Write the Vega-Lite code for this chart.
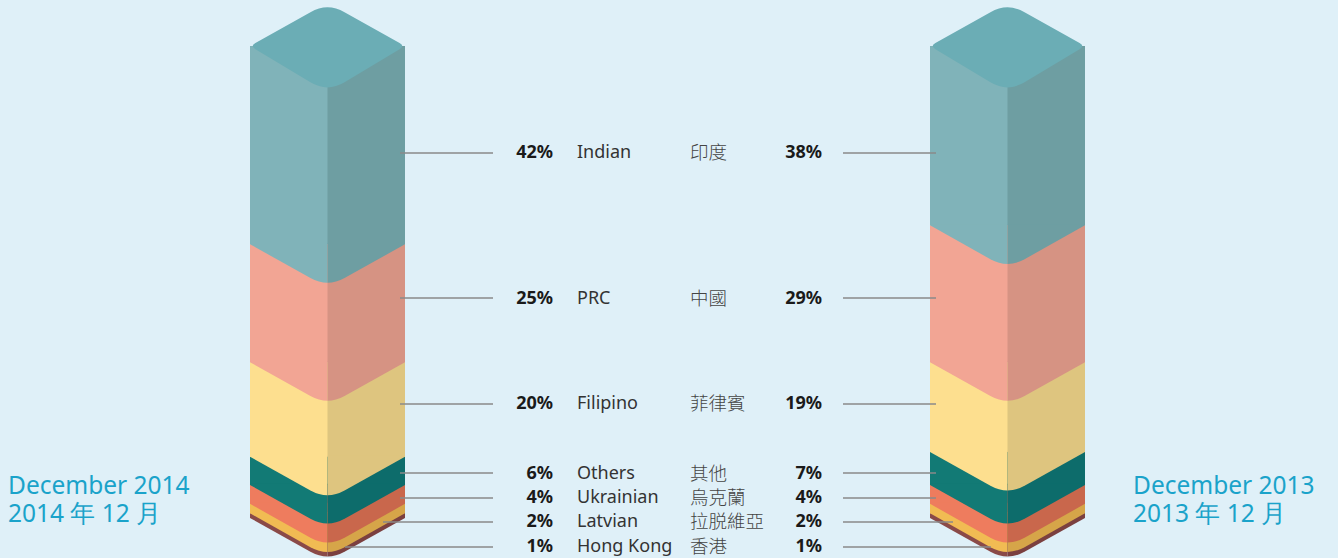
{
  "$schema": "https://vega.github.io/schema/vega-lite/v6.json",
  "width": 1338,
  "height": 558,
  "autosize": "none",
  "padding": 0,
  "background": "#dff0f8",
  "config": {"view": {"stroke": null}},
  "data": {
    "values": [
      {"year": "2014", "group": "Indian", "zh": "印度", "share": 0.42, "rank": 1},
      {"year": "2014", "group": "PRC", "zh": "中國", "share": 0.25, "rank": 2},
      {"year": "2014", "group": "Filipino", "zh": "菲律賓", "share": 0.20, "rank": 3},
      {"year": "2014", "group": "Others", "zh": "其他", "share": 0.06, "rank": 4},
      {"year": "2014", "group": "Ukrainian", "zh": "烏克蘭", "share": 0.04, "rank": 5},
      {"year": "2014", "group": "Latvian", "zh": "拉脱維亞", "share": 0.02, "rank": 6},
      {"year": "2014", "group": "Hong Kong", "zh": "香港", "share": 0.01, "rank": 7},
      {"year": "2013", "group": "Indian", "zh": "印度", "share": 0.38, "rank": 1},
      {"year": "2013", "group": "PRC", "zh": "中國", "share": 0.29, "rank": 2},
      {"year": "2013", "group": "Filipino", "zh": "菲律賓", "share": 0.19, "rank": 3},
      {"year": "2013", "group": "Others", "zh": "其他", "share": 0.07, "rank": 4},
      {"year": "2013", "group": "Ukrainian", "zh": "烏克蘭", "share": 0.04, "rank": 5},
      {"year": "2013", "group": "Latvian", "zh": "拉脱維亞", "share": 0.02, "rank": 6},
      {"year": "2013", "group": "Hong Kong", "zh": "香港", "share": 0.01, "rank": 7}
    ]
  },
  "transform": [
    {"stack": "share", "groupby": ["year"], "sort": [{"field": "rank", "order": "ascending"}], "as": ["y0", "y1"], "offset": "zero"}
  ],
  "resolve": {"scale": {"x": "independent", "y": "independent", "fill": "independent", "size": "independent", "shape": "independent"}},
  "layer": [
    {
      "mark": {"type": "bar", "strokeWidth": 0},
      "encoding": {
        "x": {"field": "year", "type": "nominal", "axis": null, "scale": {"type": "band", "domain": ["2014", "2013"], "range": [250, 1085], "paddingInner": 0.77206, "paddingOuter": 0}},
        "y": {"field": "y0", "type": "quantitative", "axis": null, "scale": {"domain": [0, 1], "range": [46, 518], "nice": false, "zero": false}},
        "y2": {"field": "y1"},
        "fill": {"field": "group", "type": "nominal", "legend": null, "scale": {"domain": ["Indian", "PRC", "Filipino", "Others", "Ukrainian", "Latvian", "Hong Kong"], "range": ["#80b3b9", "#f2a594", "#fddf8f", "#127a75", "#ee7c5e", "#f1bb53", "#8a4a48"]}}
      }
    },
    {
      "mark": {"type": "bar", "strokeWidth": 0},
      "encoding": {
        "x": {"field": "year", "type": "nominal", "axis": null, "scale": {"type": "band", "domain": ["2014", "2013"], "range": [327.5, 1085], "paddingInner": 0.88603, "paddingOuter": 0}},
        "y": {"field": "y0", "type": "quantitative", "axis": null, "scale": {"domain": [0, 1], "range": [46, 518], "nice": false, "zero": false}},
        "y2": {"field": "y1"},
        "fill": {"field": "group", "type": "nominal", "legend": null, "scale": {"domain": ["Indian", "PRC", "Filipino", "Others", "Ukrainian", "Latvian", "Hong Kong"], "range": ["#6e9ea2", "#d69383", "#dec57f", "#0d6c6b", "#c9674c", "#d6a549", "#7b4040"]}}
      }
    },
    {
      "mark": {"type": "point", "filled": true, "opacity": 1, "strokeWidth": 0, "size": 24025, "shape": "M-1,-0.015L0,-0.015L0,0.498Q-0.11,0.498 -0.22,0.437L-1,0Z"},
      "encoding": {
        "x": {"field": "year", "type": "nominal", "axis": null, "scale": {"type": "band", "domain": ["2014", "2013"], "range": [250, 1085], "paddingInner": 0.77206, "paddingOuter": 0}},
        "y": {"field": "y1", "type": "quantitative", "axis": null, "scale": {"domain": [0, 1], "range": [46, 518], "nice": false, "zero": false}},
        "fill": {"field": "group", "type": "nominal", "legend": null, "scale": {"domain": ["Indian", "PRC", "Filipino", "Others", "Ukrainian", "Latvian", "Hong Kong"], "range": ["#80b3b9", "#f2a594", "#fddf8f", "#127a75", "#ee7c5e", "#f1bb53", "#8a4a48"]}},
        "order": {"field": "rank", "type": "quantitative", "sort": "descending"}
      }
    },
    {
      "mark": {"type": "point", "filled": true, "opacity": 1, "strokeWidth": 0, "size": 24025, "shape": "M1,-0.015L0,-0.015L0,0.498Q0.11,0.498 0.22,0.437L1,0Z"},
      "encoding": {
        "x": {"field": "year", "type": "nominal", "axis": null, "scale": {"type": "band", "domain": ["2014", "2013"], "range": [250, 1085], "paddingInner": 0.77206, "paddingOuter": 0}},
        "y": {"field": "y1", "type": "quantitative", "axis": null, "scale": {"domain": [0, 1], "range": [46, 518], "nice": false, "zero": false}},
        "fill": {"field": "group", "type": "nominal", "legend": null, "scale": {"domain": ["Indian", "PRC", "Filipino", "Others", "Ukrainian", "Latvian", "Hong Kong"], "range": ["#6e9ea2", "#d69383", "#dec57f", "#0d6c6b", "#c9674c", "#d6a549", "#7b4040"]}},
        "order": {"field": "rank", "type": "quantitative", "sort": "descending"}
      }
    },
    {
      "transform": [{"filter": "datum.rank == 1"}],
      "mark": {"type": "point", "filled": true, "opacity": 1, "strokeWidth": 0, "size": 24025, "color": "#6badb5", "shape": "M-0.93,-0.039L-0.22,-0.437Q0,-0.56 0.22,-0.437L0.93,-0.039Q1,0 0.93,0.042L0.22,0.468Q0,0.6 -0.22,0.468L-0.93,0.042Q-1,0 -0.93,-0.039Z"},
      "encoding": {
        "x": {"field": "year", "type": "nominal", "axis": null, "scale": {"type": "band", "domain": ["2014", "2013"], "range": [250, 1085], "paddingInner": 0.77206, "paddingOuter": 0}},
        "y": {"field": "y0", "type": "quantitative", "axis": null, "scale": {"domain": [0, 1], "range": [46, 518], "nice": false, "zero": false}}
      }
    },
    {
      "mark": {"type": "point", "filled": false, "opacity": 1, "stroke": "#8a8a8a", "strokeWidth": 1.3},
      "encoding": {
        "x": {"field": "year", "type": "nominal", "axis": null, "scale": {"type": "point", "domain": ["2014", "2013"], "range": [493, 843], "padding": 0}},
        "y": {"field": "rank", "type": "quantitative", "axis": null, "scale": {"domain": [1, 2, 3, 4, 5, 6, 7], "range": [153, 298, 404, 473, 498, 522, 547], "nice": false, "zero": false}},
        "shape": {"field": "year", "type": "nominal", "legend": null, "scale": {"domain": ["2014", "2013"], "range": ["M-1,0L0,0", "M0,0L1,0"]}},
        "size": {"field": "rank", "type": "quantitative", "legend": null, "scale": {"domain": [1, 5, 6, 7], "range": [34596, 34596, 48400, 87616], "zero": false, "nice": false}}
      }
    },
    {
      "mark": {"type": "text", "align": "right", "baseline": "middle", "font": "Noto Sans", "fontWeight": "bold", "fontSize": 18, "color": "#1a1a1a"},
      "encoding": {
        "x": {"field": "year", "type": "nominal", "axis": null, "scale": {"type": "point", "domain": ["2014", "2013"], "range": [553, 822], "padding": 0}},
        "y": {"field": "rank", "type": "quantitative", "axis": null, "scale": {"domain": [1, 2, 3, 4, 5, 6, 7], "range": [153, 299, 404, 474, 498, 522, 547], "nice": false, "zero": false}},
        "text": {"field": "share", "type": "quantitative", "format": ".0%"}
      }
    },
    {
      "transform": [{"filter": "datum.year == '2014'"}],
      "mark": {"type": "text", "align": "left", "baseline": "middle", "font": "Noto Sans", "fontSize": 18, "color": "#333333", "dx": 24},
      "encoding": {
        "x": {"field": "year", "type": "nominal", "axis": null, "scale": {"type": "point", "domain": ["2014", "2013"], "range": [553, 822], "padding": 0}},
        "y": {"field": "rank", "type": "quantitative", "axis": null, "scale": {"domain": [1, 2, 3, 4, 5, 6, 7], "range": [153, 299, 404, 474, 498, 522, 547], "nice": false, "zero": false}},
        "text": {"field": "group", "type": "nominal"}
      }
    },
    {
      "transform": [{"filter": "datum.year == '2014'"}],
      "mark": {"type": "text", "align": "left", "baseline": "middle", "font": "Noto Sans CJK TC", "fontWeight": 300, "fontSize": 18.5, "color": "#444444", "dx": 137},
      "encoding": {
        "x": {"field": "year", "type": "nominal", "axis": null, "scale": {"type": "point", "domain": ["2014", "2013"], "range": [553, 822], "padding": 0}},
        "y": {"field": "rank", "type": "quantitative", "axis": null, "scale": {"domain": [1, 2, 3, 4, 5, 6, 7], "range": [153, 299, 404, 474, 498, 522, 547], "nice": false, "zero": false}},
        "text": {"field": "zh", "type": "nominal"}
      }
    },
    {
      "data": {"values": [
        {"year": "2014", "title": "December 2014\n2014 年 12 月"},
        {"year": "2013", "title": "December 2013\n2013 年 12 月"}
      ]},
      "mark": {"type": "text", "align": "left", "baseline": "alphabetic", "font": "Noto Sans", "fontSize": 24.5, "lineHeight": 28, "lineBreak": "\n", "color": "#1aa3ca"},
      "encoding": {
        "x": {"field": "year", "type": "nominal", "axis": null, "scale": {"type": "point", "domain": ["2014", "2013"], "range": [8, 1133], "padding": 0}},
        "y": {"datum": 0.949, "type": "quantitative", "axis": null, "scale": {"domain": [0, 1], "range": [46, 518], "nice": false, "zero": false}},
        "text": {"field": "title", "type": "nominal"}
      }
    }
  ]
}
